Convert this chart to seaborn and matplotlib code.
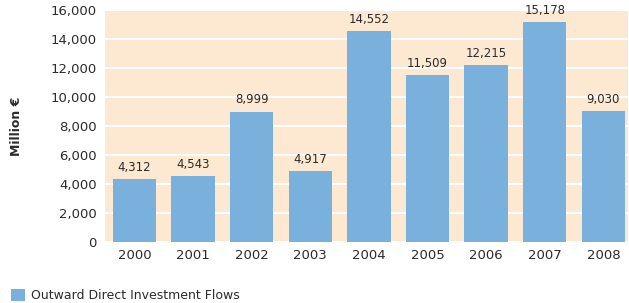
import matplotlib
matplotlib.use("Agg")
import matplotlib.pyplot as plt
import seaborn as sns
import pandas as pd
from matplotlib.patches import Patch

years = ["2000", "2001", "2002", "2003", "2004", "2005", "2006", "2007", "2008"]
flows = [4312, 4543, 8999, 4917, 14552, 11509, 12215, 15178, 9030]
series_name = "Outward Direct Investment Flows"
yticks = [0, 2000, 4000, 6000, 8000, 10000, 12000, 14000, 16000]

sns.set_theme(style="white")
plt.rcParams['font.family'] = ['DejaVu Sans']

df = pd.DataFrame({"year": years, "value": flows})
bar_color = "#7AB0DC"
text_color = "#2b2b2b"

fig = plt.figure(figsize=(6.29, 3.03), dpi=100)
ax = fig.add_axes([105/629, 1-242/303, (628-105)/629, (242-10)/303])
ax.set_facecolor("#FDE9D2")
sns.barplot(data=df, x="year", y="value", color=bar_color, width=0.74,
            saturation=1, ax=ax, zorder=3, linewidth=0, edgecolor="none")
ax.set_ylim(0, 16000)
ax.set_xlim(-0.5, 8.42)
ax.set_yticks(yticks)
ax.set_yticklabels([f"{v:,}" for v in yticks])
ax.yaxis.grid(True, color="white", linewidth=1.5, zorder=1)
ax.set_axisbelow(True)
for s in ax.spines.values():
    s.set_visible(False)
ax.tick_params(axis="both", length=0, labelsize=9.5, colors=text_color, pad=6)
ax.tick_params(axis="x", pad=5)
ax.set_xlabel("")
ax.set_ylabel("Million €", fontsize=9, fontweight="bold", color=text_color, labelpad=20)

for i, v in enumerate(flows):
    ax.text(i, v + 350, f"{v:,}", ha="center", va="bottom", fontsize=8.5, color=text_color)

handles = [Patch(facecolor=bar_color, edgecolor="none")]
fig.legend(handles, [series_name], loc="lower left", bbox_to_anchor=(0.0, -0.035),
           frameon=False, fontsize=9, handlelength=1.1, handleheight=1.1,
           handletextpad=0.5, labelcolor=text_color)

fig.savefig("out.png", dpi=100)
